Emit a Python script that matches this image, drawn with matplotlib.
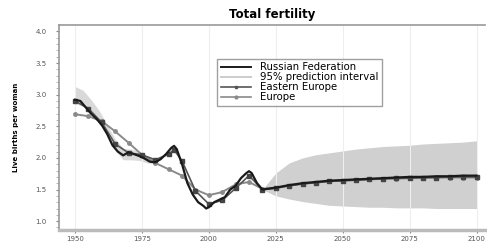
import matplotlib
matplotlib.use("Agg")
import matplotlib.pyplot as plt
import numpy as np
from matplotlib.lines import Line2D

# Russian Federation observed
rus_years = [1950, 1952, 1954, 1956, 1958, 1960, 1962, 1964, 1966, 1968, 1970, 1972, 1974, 1976,
             1978, 1980, 1982, 1984, 1986, 1987, 1988, 1990, 1992, 1994, 1996, 1998, 1999, 2000,
             2002, 2004, 2006, 2008, 2010, 2012, 2014, 2015, 2016, 2018, 2020]
rus_vals = [2.92, 2.90, 2.80, 2.70, 2.62, 2.52, 2.38, 2.20, 2.10, 2.04, 2.09, 2.06, 2.03, 1.99,
            1.94, 1.93, 1.98, 2.06, 2.16, 2.19, 2.14, 1.90, 1.60, 1.42, 1.30, 1.24, 1.20, 1.22,
            1.30, 1.34, 1.38, 1.50, 1.56, 1.68, 1.76, 1.79, 1.76, 1.60, 1.50]
# Russian Federation projection (median) and 95% prediction interval
proj_years = [2020, 2025, 2030, 2035, 2040, 2045, 2050, 2055, 2060, 2065, 2070, 2075, 2080,
              2085, 2090, 2095, 2100]
rus_proj = [1.50, 1.53, 1.57, 1.60, 1.62, 1.64, 1.65, 1.66, 1.67, 1.68, 1.69, 1.70, 1.70,
            1.71, 1.71, 1.72, 1.72]
pi_upper = [1.50, 1.76, 1.92, 2.00, 2.05, 2.08, 2.11, 2.14, 2.16, 2.18, 2.19, 2.20, 2.22,
            2.23, 2.24, 2.25, 2.27]
pi_lower = [1.50, 1.40, 1.35, 1.31, 1.28, 1.25, 1.24, 1.23, 1.22, 1.22, 1.21, 1.21, 1.21,
            1.20, 1.20, 1.20, 1.20]
# Uncertainty band around past estimates
band_years = [1950, 1953, 1956, 1959, 1962, 1965, 1968, 1971, 1974, 1977, 1980]
band_upper = [3.13, 3.07, 2.92, 2.75, 2.52, 2.30, 2.15, 2.14, 2.10, 2.02, 1.97]
band_lower = [2.86, 2.82, 2.70, 2.58, 2.36, 2.12, 1.97, 1.97, 1.96, 1.92, 1.91]

# Eastern Europe
ee_years = [1950, 1955, 1960, 1965, 1970, 1975, 1980, 1985, 1987, 1990, 1995, 2000, 2005,
            2010, 2015, 2020, 2025, 2030, 2035, 2040, 2045, 2050, 2055, 2060, 2065, 2070,
            2075, 2080, 2085, 2090, 2095, 2100]
ee_vals = [2.90, 2.78, 2.56, 2.22, 2.08, 2.05, 1.97, 2.06, 2.13, 1.95, 1.48, 1.27, 1.33,
           1.52, 1.72, 1.50, 1.52, 1.56, 1.59, 1.61, 1.63, 1.64, 1.65, 1.66, 1.67, 1.68,
           1.68, 1.69, 1.69, 1.70, 1.70, 1.70]
# Europe
eu_years = [1950, 1955, 1960, 1965, 1970, 1975, 1980, 1985, 1990, 1995, 2000, 2005, 2010,
            2015, 2020, 2025, 2030, 2035, 2040, 2045, 2050, 2055, 2060, 2065, 2070, 2075,
            2080, 2085, 2090, 2095, 2100]
eu_vals = [2.69, 2.66, 2.58, 2.42, 2.24, 2.05, 1.92, 1.82, 1.72, 1.50, 1.41, 1.46, 1.58,
           1.62, 1.51, 1.53, 1.56, 1.59, 1.61, 1.63, 1.64, 1.65, 1.66, 1.67, 1.67, 1.68,
           1.68, 1.69, 1.69, 1.69, 1.69]

xticks = [1950, 1975, 2000, 2025, 2050, 2075, 2100]
yticks = [1.0, 1.5, 2.0, 2.5, 3.0, 3.5, 4.0]
legend_labels = ["Russian Federation", "95% prediction interval", "Eastern Europe", "Europe"]

fig = plt.figure(figsize=(4.87, 2.46), dpi=100)
ax = fig.add_axes([0.121, 0.065, 0.874, 0.833])

ax.fill_between(band_years, band_lower, band_upper, color="#d9d9d9", lw=0, zorder=1)
ax.fill_between(proj_years, pi_lower, pi_upper, color="#d0d0d0", lw=0, zorder=1)

ax.plot(eu_years, eu_vals, color="#8a8a8a", lw=1.4, marker="o", ms=2.5,
        mfc="#8a8a8a", mec="#8a8a8a", zorder=3)
ax.plot(ee_years, ee_vals, color="#555555", lw=1.2, marker="s", ms=3,
        mfc="#444444", mec="#444444", zorder=4)
ax.plot(rus_years + proj_years[1:], rus_vals + rus_proj[1:], color="#1a1a1a", lw=1.6, zorder=5)

ax.set_xlim(1944, 2103)
ax.set_ylim(0.86, 4.1)
ax.set_xticks(xticks)
ax.set_xticklabels([str(x) for x in xticks], fontsize=5, color="#555555")
ax.set_yticks(yticks)
ax.set_yticklabels(["%.1f" % y for y in yticks], fontsize=5, color="#555555")
ax.set_yticks(np.arange(0.9, 4.1, 0.1), minor=True)
ax.tick_params(axis="both", length=2, color="#888888")
ax.tick_params(axis="x", pad=2)
ax.tick_params(axis="y", pad=7)
ax.tick_params(axis="y", which="minor", length=2, color="#aaaaaa")
ax.grid(True, axis="x", color="#eeeeee", lw=0.8)
for s in ax.spines.values():
    s.set_color("#999999")
    s.set_linewidth(1.2)
ax.spines["right"].set_visible(False)
ax.spines["bottom"].set_linewidth(2.5)
ax.spines["bottom"].set_color("#bbbbbb")

ax.set_title("Total fertility", fontsize=8.5, fontweight="bold", pad=5)
ax.set_ylabel("Live births per woman", fontsize=5, fontweight="bold", labelpad=12)

handles = [Line2D([], [], color="#1a1a1a", lw=1.4),
           Line2D([], [], color="#cccccc", lw=1.4),
           Line2D([], [], color="#555555", lw=1.2, marker="s", ms=2),
           Line2D([], [], color="#8a8a8a", lw=1.2, marker="o", ms=2)]
leg = ax.legend(handles, legend_labels, loc="upper left", bbox_to_anchor=(0.36, 0.86),
                fontsize=7.3, frameon=True, fancybox=False, edgecolor="#888888",
                handlelength=3.0, borderpad=0.35, labelspacing=0.0, handletextpad=0.9)
leg.get_frame().set_linewidth(1.0)

fig.savefig("out.png", dpi=100)
